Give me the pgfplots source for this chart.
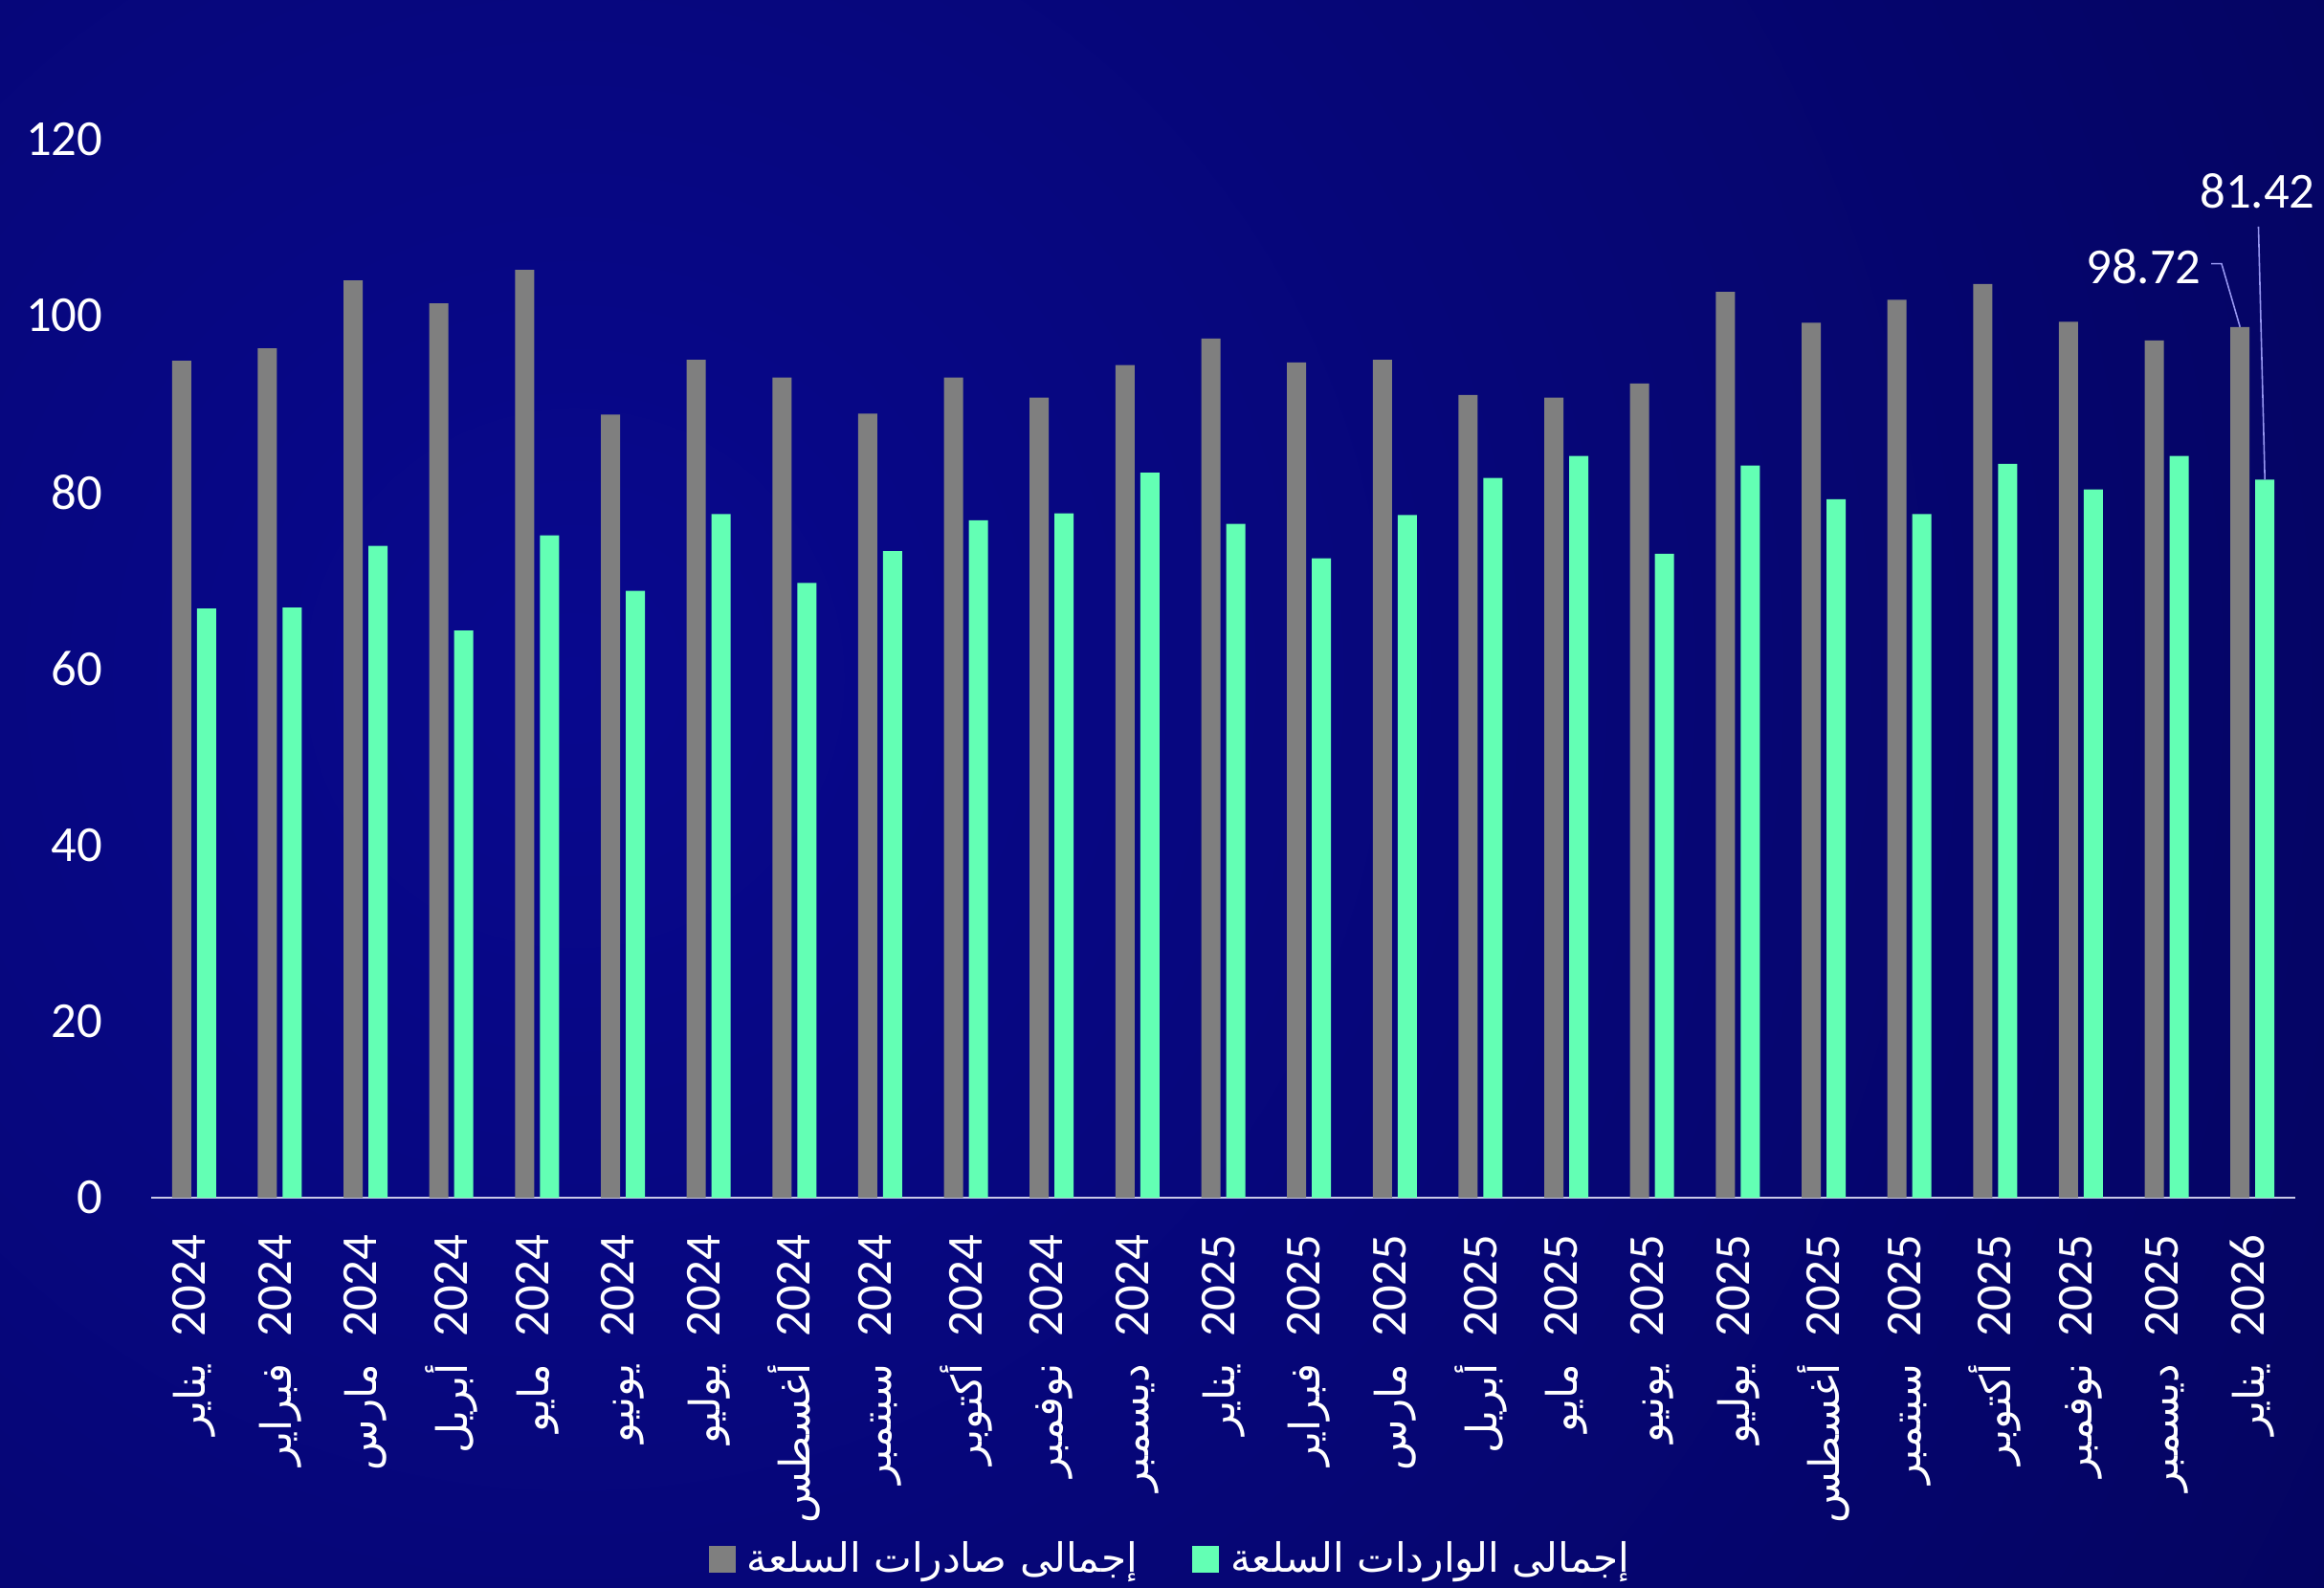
\documentclass[border=0pt]{standalone}
\usepackage{pgfplots}
\pgfplotsset{compat=1.18}
\usepackage{pgfplotstable}
\usepackage{fontspec}
\setmainfont{Carlito}
\newfontfamily\arabicfont[Script=Arabic]{DejaVu Sans}
\TeXXeTstate=1

\definecolor{bgin}{RGB}{8,8,142}
\definecolor{bgout}{RGB}{2,2,68}
\definecolor{expgray}{RGB}{127,127,127}
\definecolor{impgreen}{RGB}{99,255,180}
\definecolor{axcol}{RGB}{200,200,230}
\definecolor{leader}{RGB}{150,150,240}

% month (Arabic) + year, rotated later
\newcommand\lab[2]{{\arabicfont\fontsize{12.5}{15}\selectfont\beginR #1\endR}\hspace{0.28cm}#2}

\pgfplotstableread{
idx exp imp
0 94.9 66.8
1 96.3 66.9
2 104.0 73.9
3 101.4 64.3
4 105.2 75.1
5 88.8 68.8
6 95.0 77.5
7 93.0 69.7
8 88.9 73.3
9 93.0 76.8
10 90.7 77.6
11 94.4 82.2
12 97.4 76.4
13 94.7 72.5
14 95.0 77.4
15 91.0 81.6
16 90.7 84.1
17 92.3 73.0
18 102.7 83.0
19 99.2 79.2
20 101.8 77.5
21 103.6 83.2
22 99.3 80.3
23 97.2 84.1
24 98.72 81.42
}\datatable

\begin{document}
\begin{tikzpicture}
\useasboundingbox (0,0) rectangle (24.29,16.59);
\begin{scope}
  \clip (0,0) rectangle (24.29,16.59);
  \shade[inner color=bgin, outer color=bgout] (6,9.5) circle (34);
\end{scope}
\begin{axis}[
  at={(1.58cm,4.07cm)}, anchor=south west,
  scale only axis, width=22.41cm, height=11.064cm,
  xmin=-0.5, xmax=24.5, ymin=0, ymax=120,
  axis x line*=bottom, axis y line*=left,
  y axis line style={draw=none},
  x axis line style={draw=axcol, line width=0.6pt},
  major tick style={draw=none},
  ytick={0,20,...,120},
  xtick={0,...,24},
  xticklabels={
    \lab{يناير}{2024}, \lab{فبراير}{2024}, \lab{مارس}{2024}, \lab{أبريل}{2024},
    \lab{مايو}{2024}, \lab{يونيو}{2024}, \lab{يوليو}{2024}, \lab{أغسطس}{2024},
    \lab{سبتمبر}{2024}, \lab{أكتوبر}{2024}, \lab{نوفمبر}{2024}, \lab{ديسمبر}{2024},
    \lab{يناير}{2025}, \lab{فبراير}{2025}, \lab{مارس}{2025}, \lab{أبريل}{2025},
    \lab{مايو}{2025}, \lab{يونيو}{2025}, \lab{يوليو}{2025}, \lab{أغسطس}{2025},
    \lab{سبتمبر}{2025}, \lab{أكتوبر}{2025}, \lab{نوفمبر}{2025}, \lab{ديسمبر}{2025},
    \lab{يناير}{2026}},
  ticklabel style={font=\fontsize{15}{18}\selectfont, text=white},
  /pgf/number format/assume math mode=true,
  yticklabel style={anchor=east, inner sep=0pt},
  yticklabel shift={0.5cm},
  xticklabel style={rotate=90, anchor=east, inner sep=0pt},
  xticklabel shift={0.38cm},
  legend style={at={(axis cs:11.44,-41)}, anchor=center, draw=none, fill=none,
    text=white, legend columns=2,
    font=\arabicfont\fontsize{12}{15}\selectfont,
    nodes={inner xsep=0.12cm},
    /tikz/every even column/.append style={column sep=0.45cm}},
  clip=false,
]
\addplot[ybar, bar width=0.2cm, bar shift=-0.13cm, fill=expgray, draw=none,
  legend image code/.code={\fill[expgray] (0cm,-0.14cm) rectangle (0.28cm,0.14cm);}]
  table[x=idx, y=exp] {\datatable};
\addlegendentry{\beginR إجمالى صادرات السلعة\endR}
\addplot[ybar, bar width=0.2cm, bar shift=0.13cm, fill=impgreen, draw=none,
  legend image code/.code={\fill[impgreen] (0cm,-0.14cm) rectangle (0.28cm,0.14cm);}]
  table[x=idx, y=imp] {\datatable};
\addlegendentry{\beginR إجمالى الواردات السلعة\endR}

% data labels of the last month
\draw[leader, line width=0.45pt] (axis cs:23.52,105.9) -- (axis cs:23.64,105.9) -- (axis cs:23.855,98.72);
\node[text=white, font=\fontsize{15}{18}\selectfont] at (axis cs:22.73,105.6) {98.72};
\draw[leader, line width=0.45pt] (axis cs:24.07,110.1) -- (axis cs:24.145,81.42);
\node[text=white, font=\fontsize{15}{18}\selectfont] at (axis cs:24.06,114.1) {81.42};
\end{axis}
\end{tikzpicture}
\end{document}
